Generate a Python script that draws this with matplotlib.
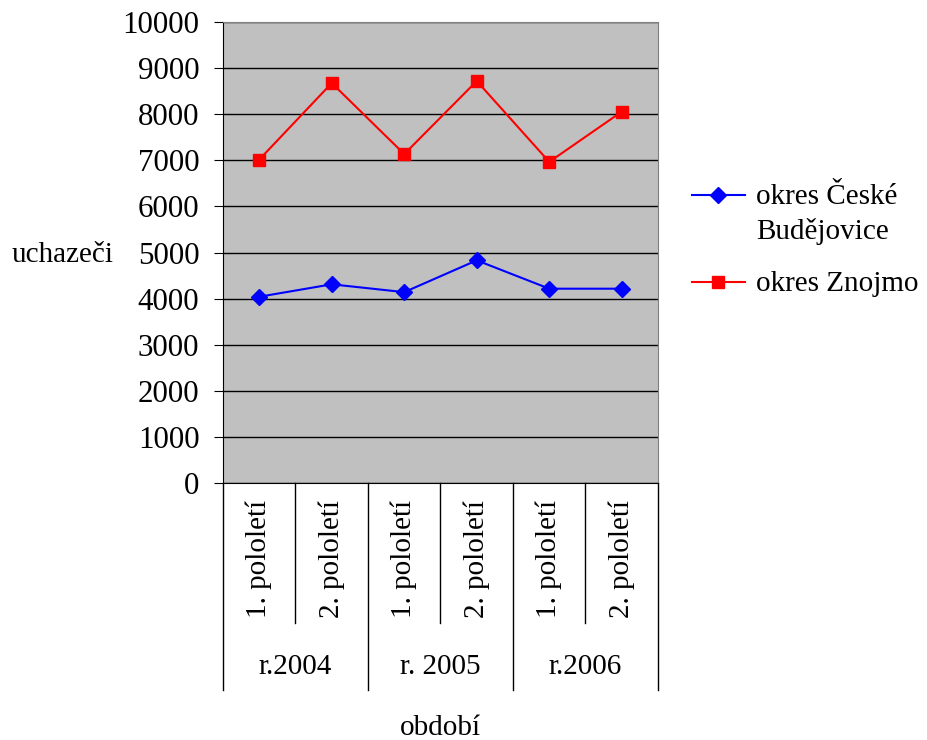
import matplotlib.pyplot as plt
from matplotlib.lines import Line2D

plt.rcParams['font.family'] = ['Liberation Serif', 'DejaVu Serif']

# data
periods = ["1. pololetí", "2. pololetí"] * 3
years = ["r.2004", "r. 2005", "r.2006"]
budejovice = [4040, 4310, 4140, 4830, 4215, 4215]
znojmo = [7015, 8675, 7135, 8720, 6965, 8055]

W, H = 928, 740
fig = plt.figure(figsize=(W / 100, H / 100), dpi=100)
# plot area in pixels: x 223..658, y 22..483
ax = fig.add_axes([223 / W, (H - 483) / H, 435 / W, 461 / H])
ax.set_facecolor('#c0c0c0')

x = list(range(len(periods)))
ax.plot(x, budejovice, color='#0000ff', lw=1.5, marker='D', ms=8, zorder=3)
ax.plot(x, znojmo, color='#ff0000', lw=1.5, marker='s', ms=8, zorder=3)

ax.set_xlim(-0.5, len(periods) - 0.5)
ax.set_ylim(0, 10000)
ax.set_yticks(range(0, 10001, 1000))
ax.yaxis.grid(True, color='black', lw=1)
ax.set_axisbelow(True)
ax.tick_params(axis='y', labelsize=22.3, length=6.5, direction='out', pad=10.5)
ax.set_xticks([])
for s in ['top', 'right']:
    ax.spines[s].set_color('#808080')
for s in ['left', 'bottom']:
    ax.spines[s].set_color('black')

# category labels and separators (multi-level axis)
tr = ax.get_xaxis_transform()
for i, p in enumerate(periods):
    ax.text(i, -0.037, p, rotation=90, ha='center', va='top', fontsize=21,
            transform=tr)
for j, yr in enumerate(years):
    ax.text(2 * j + 0.5, -0.399, yr, ha='center', va='center', fontsize=21,
            transform=tr)
for k in range(len(periods) + 1):
    xs = k - 0.5
    bottom = -0.449 if k % 2 == 0 else -0.304
    ax.plot([xs, xs], [0, bottom], color='black', lw=1, transform=tr,
            clip_on=False)

fig.text(440 / W, 1 - 728 / H, 'období', ha='center', va='center', fontsize=21)
fig.text(63 / W, 1 - 255 / H, 'uchazeči', ha='center', va='center', fontsize=21)

# legend drawn by hand so the marker sits on the first text line
leg = [('okres České\nBudějovice', '#0000ff', 'D', 195),
       ('okres Znojmo', '#ff0000', 's', 282)]
for label, c, m, yp in leg:
    fig.add_artist(Line2D([692 / W, 745 / W], [1 - yp / H] * 2, color=c, lw=1.5,
                          transform=fig.transFigure))
    fig.add_artist(Line2D([718 / W], [1 - yp / H], color=c, marker=m, ms=8,
                          transform=fig.transFigure))
    fig.text(756 / W, 1 - (yp - 11) / H, label, ha='left', va='top',
             fontsize=21, linespacing=1.4)

fig.savefig('out.png', dpi=100)
